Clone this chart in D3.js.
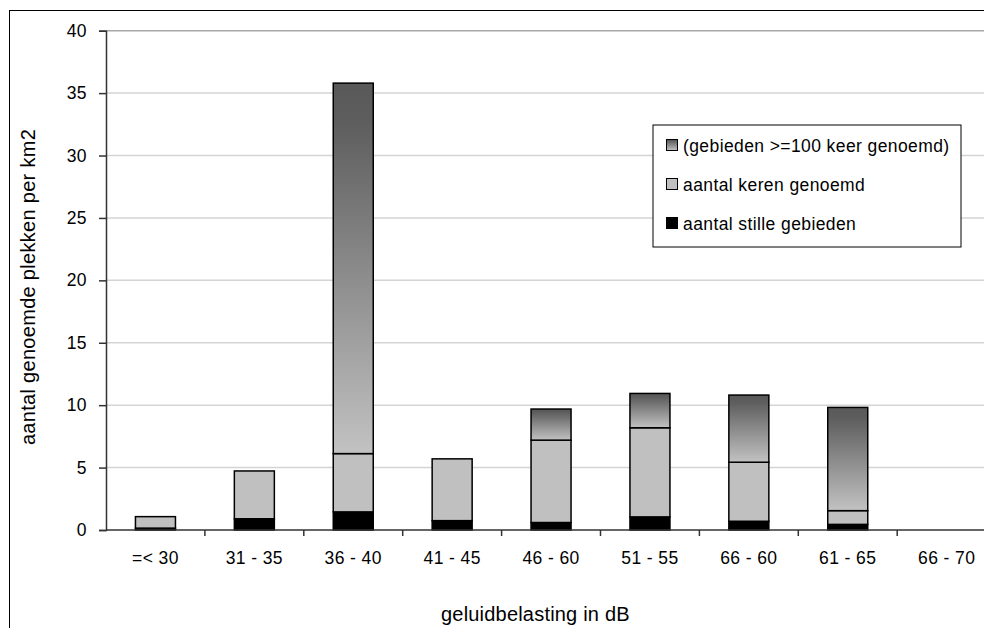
<!DOCTYPE html>
<html>
<head>
<meta charset="utf-8">
<script src="https://cdn.jsdelivr.net/npm/d3@7"></script>
<style>
  html, body { margin: 0; padding: 0; background: #fff; }
  svg text { font-family: "Liberation Sans", Arial, sans-serif; fill: #000; }
</style>
</head>
<body>
<svg id="chart" width="984" height="628"></svg>
<script>
// ---- data ----
const categories = ["=< 30", "31 - 35", "36 - 40", "41 - 45", "46 - 60", "51 - 55", "66 - 60", "61 - 65", "66 - 70"];
const stilleGebieden = [0.15, 0.9, 1.45, 0.75, 0.6, 1.05, 0.7, 0.45, 0];
const kerenGenoemd   = [0.92, 3.83, 4.67, 4.95, 6.6, 7.14, 4.73, 1.1, 0];
const gebieden100    = [0, 0, 29.68, 0, 2.49, 2.75, 5.38, 8.27, 0];
const yTicks = [0, 5, 10, 15, 20, 25, 30, 35, 40];
const seriesNames = ["aantal stille gebieden", "aantal keren genoemd", "(gebieden >=100 keer genoemd)"];

// ---- layout ----
const svg = d3.select("#chart");
const plotLeft = 106, plotTop = 30.7, plotBottom = 530, bandW = 98.9;
const plotRight = plotLeft + bandW * categories.length;
const barW = 40;
const smallFont = 17.5, smallLS = 0.4;

const defs = svg.append("defs");
const grad = defs.append("linearGradient").attr("id", "gradTop")
  .attr("x1", 0).attr("y1", 0).attr("x2", 0).attr("y2", 1);
grad.append("stop").attr("offset", "0%").attr("stop-color", "#595959");
grad.append("stop").attr("offset", "10%").attr("stop-color", "#5d5d5d");
grad.append("stop").attr("offset", "100%").attr("stop-color", "#c2c2c2");

// outer frame
svg.append("rect").attr("x", 9.5).attr("y", 10.5).attr("width", 1100).attr("height", 800)
  .attr("fill", "none").attr("stroke", "#000").attr("stroke-width", 1);

const x = d3.scaleBand().domain(categories).range([plotLeft, plotRight]).paddingInner(0).paddingOuter(0);
const y = d3.scaleLinear().domain([0, 40]).range([plotBottom, plotTop]);

// gridlines
svg.append("g").selectAll("line").data(yTicks.filter(d => d > 0)).join("line")
  .attr("x1", plotLeft).attr("x2", plotRight)
  .attr("y1", d => y(d)).attr("y2", d => y(d))
  .attr("stroke", d => d === 40 ? "#a8a8a8" : "#d4d4d4").attr("stroke-width", 1.5);

// stacked bars
const rows = categories.map((c, i) => ({ cat: c, s0: stilleGebieden[i], s1: kerenGenoemd[i], s2: gebieden100[i] }));
const stack = d3.stack().keys(["s0", "s1", "s2"]);
const stacked = stack(rows);
const fills = ["#000000", "#c0c0c0", "url(#gradTop)"];

stacked.forEach((layer, li) => {
  svg.append("g").selectAll("rect").data(layer.filter(d => d[1] - d[0] > 0)).join("rect")
    .attr("x", d => x(d.data.cat) + x.bandwidth() / 2 - barW / 2)
    .attr("width", barW)
    .attr("y", d => y(d[1]))
    .attr("height", d => y(d[0]) - y(d[1]))
    .attr("fill", fills[li])
    .attr("stroke", "#000").attr("stroke-width", 1.5);
});

// y axis
const yAxis = svg.append("g").attr("transform", `translate(${plotLeft},0)`)
  .call(d3.axisLeft(y).tickValues(yTicks).tickSize(7).tickPadding(12).tickFormat(d3.format("d")));
yAxis.select(".domain").attr("stroke", "#333").attr("stroke-width", 1.5);
yAxis.selectAll(".tick line").attr("stroke", "#333").attr("stroke-width", 1.5);
yAxis.selectAll(".tick text").attr("font-size", smallFont).attr("letter-spacing", smallLS)
  .attr("font-family", "Liberation Sans, Arial, sans-serif").attr("fill", "#000");

// x axis
const xg = svg.append("g").attr("transform", `translate(0,${plotBottom})`);
xg.append("line").attr("x1", plotLeft).attr("x2", plotRight).attr("y1", 0).attr("y2", 0)
  .attr("stroke", "#333").attr("stroke-width", 1.5);
const boundaries = categories.map((c, i) => x(c) + x.bandwidth());
xg.selectAll("line.tk").data(boundaries).join("line").attr("class", "tk")
  .attr("x1", d => d).attr("x2", d => d).attr("y1", 0).attr("y2", 6)
  .attr("stroke", "#333").attr("stroke-width", 1.5);
xg.selectAll("text").data(categories).join("text")
  .attr("x", d => x(d) + x.bandwidth() / 2)
  .attr("y", 33.5)
  .attr("text-anchor", "middle").attr("font-size", smallFont).attr("letter-spacing", smallLS)
  .text(d => d);

// axis titles
svg.append("text").attr("transform", "translate(35,287) rotate(-90)")
  .attr("text-anchor", "middle").attr("font-size", 20).attr("letter-spacing", 0.3)
  .text("aantal genoemde plekken per km2");
svg.append("text").attr("x", 441).attr("y", 621)
  .attr("text-anchor", "start").attr("font-size", 20).attr("letter-spacing", 0.2)
  .text("geluidbelasting in dB");

// legend
const lg = svg.append("g");
lg.append("rect").attr("x", 653).attr("y", 125).attr("width", 308).attr("height", 122)
  .attr("fill", "#fff").attr("stroke", "#000").attr("stroke-width", 1);
const legendItems = [
  { name: seriesNames[2], fill: "url(#gradTop)" },
  { name: seriesNames[1], fill: "#c0c0c0" },
  { name: seriesNames[0], fill: "#000000" }
];
const rowY = [145, 184, 223];
legendItems.forEach((it, i) => {
  lg.append("rect").attr("x", 666.5).attr("y", rowY[i] - 5.5).attr("width", 11).attr("height", 11)
    .attr("fill", it.fill).attr("stroke", "#000").attr("stroke-width", 1);
  lg.append("text").attr("x", 683).attr("y", rowY[i] + 6.5)
    .attr("font-size", smallFont).attr("letter-spacing", smallLS).text(it.name);
});
</script>
</body>
</html>
